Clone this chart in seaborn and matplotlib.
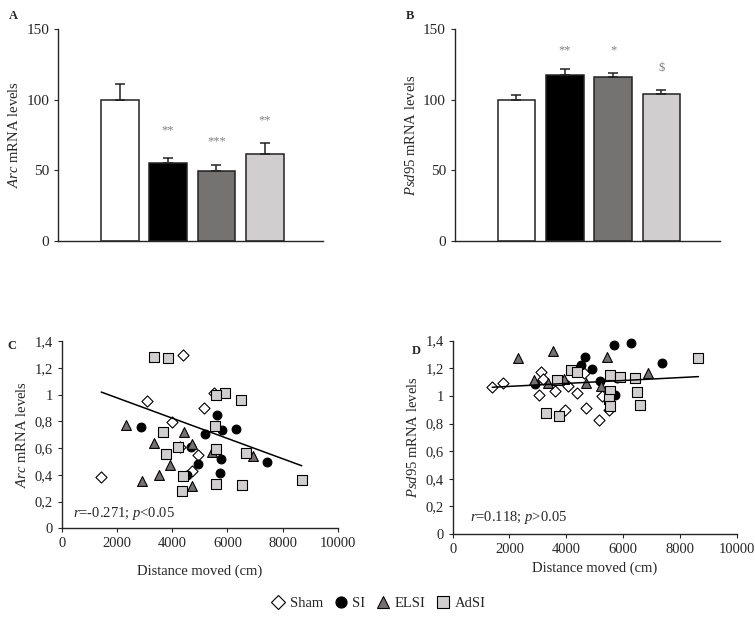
import numpy as np
import pandas as pd
import matplotlib
matplotlib.use("Agg")
import matplotlib.pyplot as plt
from matplotlib.lines import Line2D
import seaborn as sns

# ---- data ----
groups = ["Sham", "SI", "ELSI", "AdSI"]
arc_mean = [100, 54.9, 49.2, 61.5]
arc_sem = [11.0, 3.8, 4.7, 7.6]
arc_sig = ["", "**", "***", "**"]
arc_sig_y = [0, 74, 66, 81]

psd_mean = [100, 117.8, 115.9, 104.3]
psd_sem = [3.0, 3.8, 3.1, 2.9]
psd_sig = ["", "**", "*", "$"]
psd_sig_y = [0, 131, 131, 118]

# panel C: distance moved vs Arc
c_sham_x = [4380, 3094, 5144, 3979, 5521, 1432, 4938, 4732, 4295]
c_sham_y = [1.293, 0.953, 0.900, 0.792, 1.013, 0.380, 0.550, 0.430, 0.61]
c_si_x = [2876, 5617, 5812, 6297, 5169, 4696, 5763, 4938, 4550, 5715, 7426]
c_si_y = [0.755, 0.845, 0.737, 0.745, 0.705, 0.605, 0.515, 0.482, 0.402, 0.412, 0.495]
c_elsi_x = [2318, 4429, 3337, 4720, 5449, 6916, 3931, 3531, 2912, 4720]
c_elsi_y = [0.775, 0.717, 0.635, 0.630, 0.567, 0.537, 0.475, 0.395, 0.355, 0.317]
c_adsi_x = [3324, 3847, 5909, 5569, 6504, 5533, 3676, 4198, 5569, 3761, 6686,
            4392, 5569, 6540, 4343, 8688]
c_adsi_y = [1.280, 1.272, 1.015, 0.997, 0.957, 0.762, 0.717, 0.605, 0.595, 0.552,
            0.565, 0.392, 0.332, 0.322, 0.282, 0.362]
# trend line as printed in the figure (slope, intercept)
c_trend = (-7.59e-5, 1.127)

# panel D: distance moved vs Psd95
d_sham_x = [1394, 1781, 3108, 3189, 3049, 3612, 4048, 4375, 4621, 3953, 4703,
            5266, 5139, 5512]
d_sham_y = [1.067, 1.097, 1.172, 1.121, 1.007, 1.036, 1.075, 1.019, 1.164, 0.901,
            0.911, 0.998, 0.824, 0.899]
d_si_x = [2886, 4646, 4505, 4893, 5676, 6298, 7375, 5172, 5781, 5722]
d_si_y = [1.089, 1.285, 1.227, 1.198, 1.372, 1.382, 1.237, 1.109, 1.128, 1.010]
d_elsi_x = [2298, 3529, 5418, 2861, 3342, 3905, 4703, 5218, 6882]
d_elsi_y = [1.278, 1.328, 1.280, 1.116, 1.092, 1.123, 1.097, 1.072, 1.164]
d_adsi_x = [8656, 4163, 4363, 3659, 5535, 5887, 6438, 5524, 5500, 5547, 6485,
            6615, 3272, 3729]
d_adsi_y = [1.275, 1.188, 1.176, 1.118, 1.150, 1.140, 1.128, 1.036, 0.981, 0.925,
            1.032, 0.935, 0.879, 0.857]
d_trend = (1.06e-5, 1.048)

c_stat = "r=-0.271; p<0.05"
d_stat = "r=0.118; p>0.05"

bar_colors = {"Sham": "#ffffff", "SI": "#000000", "ELSI": "#767171", "AdSI": "#d0cece"}
markers = {"Sham": "D", "SI": "o", "ELSI": "^", "AdSI": "s"}
msizes = {"Sham": 32, "SI": 40, "ELSI": 50, "AdSI": 42}


def scatter_frame(parts):
    rows = []
    for g, xs, ys in parts:
        for x, y in zip(xs, ys):
            rows.append({"group": g, "dist": x, "level": y})
    return pd.DataFrame(rows)


sns.set_style("ticks")
plt.rcParams["font.family"] = ["Liberation Serif", "DejaVu Serif"]
plt.rcParams["mathtext.fontset"] = "custom"
plt.rcParams["mathtext.it"] = "Liberation Serif:italic"
plt.rcParams["mathtext.rm"] = "Liberation Serif"
plt.rcParams["axes.linewidth"] = 1.0
plt.rcParams["xtick.major.size"] = 3
plt.rcParams["ytick.major.size"] = 3

fig = plt.figure(figsize=(7.55, 6.35), dpi=100)
axA = fig.add_axes([0.0772, 0.621, 0.351, 0.333])
axB = fig.add_axes([0.6026, 0.621, 0.351, 0.333])
axC = fig.add_axes([0.0817, 0.168, 0.366, 0.295])
axD = fig.add_axes([0.5996, 0.159, 0.376, 0.3045])


def bar_panel(ax, means, sems, sig, sig_y, gene):
    df = pd.DataFrame({"group": groups, "value": means})
    sns.barplot(data=df, x="group", y="value", hue="group", palette=bar_colors,
                order=groups, width=0.78, edgecolor="#222222", linewidth=1.1,
                legend=False, ax=ax)
    pos = np.arange(len(groups))
    ax.errorbar(pos, means, yerr=[np.zeros(len(sems)), sems], fmt="none",
                ecolor="#222222", elinewidth=1.1, capsize=3.5, capthick=1.1)
    for p, s, y in zip(pos, sig, sig_y):
        if s:
            ax.text(p, y, s, ha="center", va="bottom", fontsize=9, color="#808080")
    ax.set_xlim(-1.27, 4.21)
    ax.set_ylim(0, 150)
    ax.set_yticks([0, 50, 100, 150])
    ax.tick_params(axis="y", labelsize=11, direction="out")
    ax.set_xticks([])
    ax.set_xlabel("")
    ax.set_ylabel(r"$\mathit{" + gene + "}$ mRNA levels", fontsize=10.5)
    sns.despine(ax=ax)


def scatter_panel(ax, df, trend, stat, sx, sy, gene, lpad):
    for g in groups:
        sub = df[df["group"] == g]
        sns.scatterplot(data=sub, x="dist", y="level", marker=markers[g],
                        color=bar_colors[g], edgecolor="black", linewidth=0.8,
                        s=msizes[g], ax=ax, zorder=3, clip_on=False)
    xs = np.array([df["dist"].min(), df["dist"].max()])
    sns.lineplot(x=xs, y=trend[0] * xs + trend[1], color="black", linewidth=1.1,
                 ax=ax, zorder=4)
    ax.set_xlim(0, 10000)
    ax.set_ylim(0, 1.4)
    ax.set_xticks([0, 2000, 4000, 6000, 8000, 10000])
    ax.set_yticks(np.arange(0, 1.41, 0.2))
    ax.set_yticklabels(["0", "0,2", "0,4", "0,6", "0,8", "1", "1,2", "1,4"])
    ax.tick_params(labelsize=10.5, direction="out")
    ax.set_xlabel("Distance moved (cm)", fontsize=10.5, labelpad=lpad)
    ax.set_ylabel(r"$\mathit{" + gene + "}$ mRNA levels", fontsize=10.5)
    r_txt, p_txt = stat.split("; ")
    ax.text(sx, sy, r"$\mathit{r}$" + r_txt[1:] + "; " + r"$\mathit{p}$" + p_txt[1:],
            fontsize=10.5, ha="left", va="center")
    sns.despine(ax=ax)


bar_panel(axA, arc_mean, arc_sem, arc_sig, arc_sig_y, "Arc")
bar_panel(axB, psd_mean, psd_sem, psd_sig, psd_sig_y, "Psd95")

dfC = scatter_frame([("Sham", c_sham_x, c_sham_y), ("SI", c_si_x, c_si_y),
                     ("ELSI", c_elsi_x, c_elsi_y), ("AdSI", c_adsi_x, c_adsi_y)])
dfD = scatter_frame([("Sham", d_sham_x, d_sham_y), ("SI", d_si_x, d_si_y),
                     ("ELSI", d_elsi_x, d_elsi_y), ("AdSI", d_adsi_x, d_adsi_y)])
scatter_panel(axC, dfC, c_trend, c_stat, 400, 0.11, "Arc", 10)
scatter_panel(axD, dfD, d_trend, d_stat, 600, 0.12, "Psd95", 4)

for lbl, x, y in [("A", 0.012, 0.975), ("B", 0.537, 0.975),
                  ("C", 0.010, 0.455), ("D", 0.545, 0.448)]:
    fig.text(x, y, lbl, fontsize=9, fontweight="bold", va="center")

handles = [Line2D([], [], linestyle="none", marker=markers[g], markersize=8 if g != "Sham" else 7,
                  markerfacecolor=bar_colors[g], markeredgecolor="black",
                  markeredgewidth=0.8, label=g) for g in groups]
fig.legend(handles=handles, loc="center", bbox_to_anchor=(0.5, 0.05), ncol=4,
           frameon=False, fontsize=10.5, handletextpad=0.2, columnspacing=0.6,
           handlelength=1.2)

fig.savefig("out.png", dpi=100)
